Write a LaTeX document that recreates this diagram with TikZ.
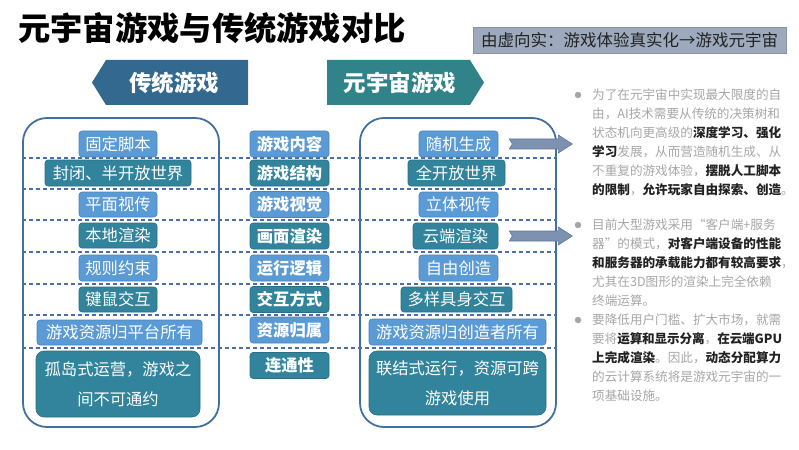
\documentclass[tikz,border=0pt]{standalone}
\usepackage{fontspec}
\setmainfont{Noto Sans CJK SC}
\XeTeXlinebreaklocale "zh"
\XeTeXlinebreakskip=0pt plus 2pt minus 0.5pt
\usetikzlibrary{calc}
\definecolor{bluebox}{HTML}{5B9BD5}
\definecolor{tealbox}{HTML}{31849B}
\definecolor{hdrblue}{HTML}{34698F}
\definecolor{hdrteal}{HTML}{31838A}
\definecolor{framec}{HTML}{41709F}
\definecolor{dashc}{HTML}{4A6FA8}
\definecolor{subfill}{HTML}{9DAABD}
\definecolor{subdraw}{HTML}{8393AB}
\definecolor{arrfill}{HTML}{7C92B0}
\definecolor{arrdraw}{HTML}{5F7696}
\definecolor{graytext}{HTML}{A6A6A6}
\definecolor{darktext}{HTML}{222222}
\newcommand\myb[1]{\textbf{\color{darktext}#1}}
\newcommand\jline[1]{\tolerance=10000\parfillskip=0pt\relax #1}
\begin{document}
\begin{tikzpicture}[x=1pt,y=-1pt,
  cbox/.style={rounded corners=3pt, draw=#1!85!black, fill=#1, text=white,
    inner sep=0pt, line width=0.6pt, font=\fontsize{16.3}{16.3}\selectfont},
  mbox/.style={cbox=#1, font=\fontsize{16.3}{16.3}\selectfont\bfseries,
    minimum width=79pt, minimum height=26pt},
  frame/.style={draw=framec, line width=1.8pt, rounded corners=24pt, inner sep=0pt},
  dashline/.style={draw=dashc, line width=1.1pt, dash pattern=on 4pt off 3pt},
  hdrtext/.style={text=white, font=\fontsize{22.5}{22.5}\selectfont\bfseries, inner sep=0pt},
  barrow/.style={fill=arrfill, draw=arrdraw, line width=0.6pt},
  note/.style={anchor=base west, inner sep=0pt, text=graytext,
    font=\fontsize{12.6}{12.6}\selectfont},
  jnote/.style={note, text width=190pt, align=justify},
  bul/.style={circle, fill=graytext, minimum size=6.5pt, inner sep=0pt}
]
\useasboundingbox (0,0) rectangle (799,449);

% title and subtitle
\node[anchor=west, inner sep=0pt, font=\fontsize{32.3}{32.3}\selectfont\bfseries] (title) at (18,28) {元宇宙游戏与传统游戏对比};
\node[fill=subfill, draw=subdraw, line width=0.6pt, minimum width=313pt, minimum height=26pt,
  inner sep=0pt, text=darktext, font=\fontsize{16.5}{16.5}\selectfont] (sub) at (629.5,40) {由虚向实：游戏体验真实化→游戏元宇宙};

% header arrows
\fill[hdrblue] (106,60) -- (248,60) -- (248,105) -- (106,105) -- (92,82.5) -- cycle;
\node[hdrtext] (hl) at (174,82.5) {传统游戏};
\fill[hdrteal] (327,60) -- (470,60) -- (484,82.5) -- (470,105) -- (327,105) -- cycle;
\node[hdrtext] (hr) at (400,82.5) {元宇宙游戏};

% frames
\node[frame, minimum width=196pt, minimum height=309pt] (lf) at (121,272.5) {};
\node[frame, minimum width=196pt, minimum height=309pt] (rf) at (458,272.5) {};

% dashed separators
\foreach \yy in {158,189,220,252,284,315,348}
  \draw[dashline] (lf.west |- 0,\yy) -- (rf.east |- 0,\yy);

% left column
\node[cbox=bluebox, minimum width=78pt, minimum height=26pt] (l1) at (118,144) {固定脚本};
\node[cbox=tealbox, minimum width=146pt, minimum height=26pt] (l2) at (118,173) {封闭、半开放世界};
\node[cbox=bluebox, minimum width=78pt, minimum height=25pt] (l3) at (118,204.5) {平面视传};
\node[cbox=tealbox, minimum width=78pt, minimum height=25pt] (l4) at (118,235.5) {本地渲染};
\node[cbox=bluebox, minimum width=78pt, minimum height=26pt] (l5) at (118,268) {规则约束};
\node[cbox=tealbox, minimum width=78pt, minimum height=25pt] (l6) at (118,299.5) {键鼠交互};
\node[cbox=bluebox, minimum width=165pt, minimum height=25pt] (l7) at (119.5,332.5) {游戏资源归平台所有};
\node[cbox=tealbox, rounded corners=8pt, minimum width=164pt, minimum height=66pt, align=center,
  font=\fontsize{16.3}{30}\selectfont] (l8) at (118,384) {孤岛式运营，游戏之\\间不可通约};

% middle column
\node[mbox=bluebox] (m1) at (289.5,144) {游戏内容};
\node[mbox=tealbox] (m2) at (289.5,173) {游戏结构};
\node[mbox=bluebox] (m3) at (289.5,204.5) {游戏视觉};
\node[mbox=tealbox] (m4) at (289.5,236) {画面渲染};
\node[mbox=bluebox] (m5) at (289.5,268) {运行逻辑};
\node[mbox=tealbox] (m6) at (289.5,299.5) {交互方式};
\node[mbox=bluebox] (m7) at (289.5,330) {资源归属};
\node[mbox=tealbox] (m8) at (289.5,365.5) {连通性};

% right column
\node[cbox=bluebox, minimum width=79pt, minimum height=26pt] (r1) at (458.5,144) {随机生成};
\node[cbox=tealbox, minimum width=97pt, minimum height=26pt] (r2) at (456.5,173) {全开放世界};
\node[cbox=bluebox, minimum width=79pt, minimum height=25pt] (r3) at (458.5,204.5) {立体视传};
\node[cbox=tealbox, minimum width=85pt, minimum height=26pt] (r4) at (455.5,236) {云端渲染};
\node[cbox=bluebox, minimum width=79pt, minimum height=26pt] (r5) at (458.5,268) {自由创造};
\node[cbox=tealbox, minimum width=111pt, minimum height=25pt] (r6) at (456.5,299.5) {多样具身交互};
\node[cbox=bluebox, minimum width=177pt, minimum height=26pt] (r7) at (457.5,332) {游戏资源归创造者所有};
\node[cbox=tealbox, rounded corners=8pt, minimum width=177pt, minimum height=64pt, align=center,
  font=\fontsize{16.3}{30}\selectfont] (r8) at (457.5,383) {联结式运行，资源可跨\\游戏使用};

% block arrows
\foreach \n in {1,4} {
  \coordinate (as\n) at ($(r\n.east)+(11,0)$);
  \coordinate (ae\n) at ($(r\n.east)+(74,0)$);
  \draw[barrow] ($(as\n)+(0,-5)$) -- ($(ae\n)+(-14,-5)$) -- ($(ae\n)+(-14,-9)$) -- (ae\n)
    -- ($(ae\n)+(-14,9)$) -- ($(ae\n)+(-14,5)$) -- ($(as\n)+(0,5)$) -- ($(as\n)+(3,0)$) -- cycle;
}

% notes
\node[bul] (b1) at (578,95) {};
\node[jnote] (n11) at (592,99.5) {\jline{为了在元宇宙中实现最大限度的自}};
\node[jnote] (n12) at (592,118.5) {\jline{由，AI技术需要从传统的决策树和}};
\node[jnote] (n13) at (592,137.5) {\jline{状态机向更高级的\myb{深度学习、强化}}};
\node[jnote] (n14) at (592,156.5) {\jline{\myb{学习}发展，从而营造随机生成、从}};
\node[jnote] (n15) at (592,175.5) {\jline{不重复的游戏体验，\myb{摆脱人工脚本}}};
\node[jnote] (n16) at (592,194.5) {\jline{\myb{的限制}，\myb{允许玩家自由探索、创造}\rlap{。}}};

\node[bul] (b2) at (578,225) {};
\node[jnote] (n21) at (592,229.5) {\jline{目前大型游戏采用“客户端+服务}};
\node[jnote] (n22) at (592,248.5) {\jline{器”的模式，\myb{对客户端设备的性能}}};
\node[jnote] (n23) at (592,267.5) {\jline{\myb{和服务器的承载能力都有较高要求}\rlap{，}}};
\node[jnote] (n24) at (592,286.5) {\jline{尤其在3D图形的渲染上完全依赖}};
\node[note] (n25) at (592,305.5) {终端运算。};

\node[bul] (b3) at (578,320) {};
\node[jnote] (n31) at (592,324.5) {\jline{要降低用户门槛、扩大市场，就需}};
\node[jnote] (n32) at (592,343.5) {\jline{要将\myb{运算和显示分离}，\myb{在云端GPU}}};
\node[jnote] (n33) at (592,362.5) {\jline{\myb{上完成渲染}。因此，\myb{动态分配算力}}};
\node[jnote] (n34) at (592,381.5) {\jline{的云计算系统将是游戏元宇宙的一}};
\node[note] (n35) at (592,400.5) {项基础设施。};
\end{tikzpicture}
\end{document}
